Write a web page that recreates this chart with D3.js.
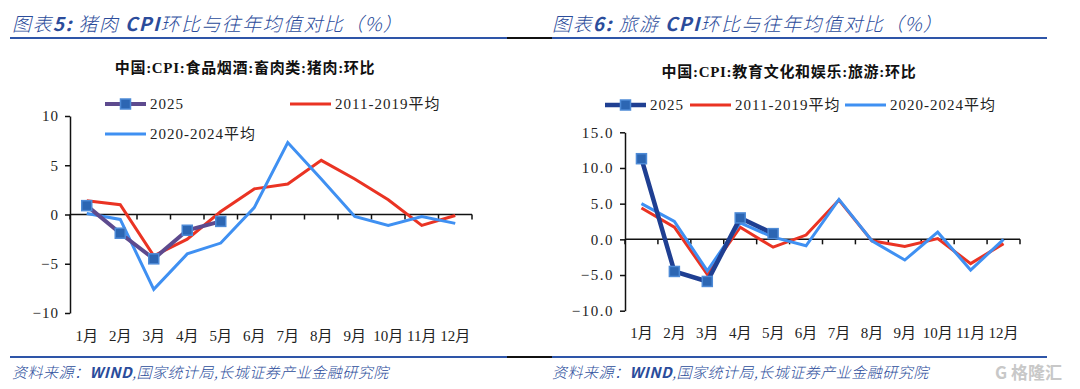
<!DOCTYPE html>
<html>
<head>
<meta charset="utf-8">
<script src="https://cdn.jsdelivr.net/npm/d3@7"></script>
<style>
  body { margin: 0; background: #fff; }
  svg { display: block; }
  .tick text { font-family: "Liberation Serif", "Noto Sans CJK SC", serif; }
</style>
</head>
<body>
<script>
// categories and values
const months = ["1月", "2月", "3月", "4月", "5月", "6月", "7月", "8月", "9月", "10月", "11月", "12月"];

// left chart: pork CPI m/m
const porkTicks = [-10, -5, 0, 5, 10];
const pork2025 = [0.9, -1.9, -4.5, -1.6, -0.7];
const pork1119 = [1.4, 1.0, -4.2, -2.5, 0.3, 2.6, 3.1, 5.5, 3.6, 1.5, -1.1, -0.1];
const pork2024 = [0.1, -0.5, -7.6, -4.0, -2.9, 0.7, 7.3, 3.6, -0.2, -1.1, -0.2, -0.9];

// right chart: tourism CPI m/m
const travelTicks = [-10, -5, 0, 5, 10, 15];
const travel2025 = [11.3, -4.5, -5.9, 3.0, 0.8];
const travel1119 = [4.4, 1.7, -4.9, 1.7, -1.1, 0.6, 5.5, -0.2, -1.0, 0.1, -3.4, -0.6];
const travel2024 = [5.0, 2.5, -4.4, 2.3, 0.3, -0.9, 5.6, -0.2, -2.9, 1.0, -4.3, 0.0];

const width = 1080, height = 389;
const blueText = "#2b4c9b";
const red = "#ea3323", lightBlue = "#3f90f2";

const svg = d3.select("body").append("svg")
  .attr("width", width)
  .attr("height", height);

// header / footer rules
function rules(y) {
  svg.append("line").attr("x1", 10).attr("x2", 507).attr("y1", y).attr("y2", y)
    .attr("stroke", "#2e55a8").attr("stroke-width", 2);
  svg.append("line").attr("x1", 507).attr("x2", 552).attr("y1", y).attr("y2", y)
    .attr("stroke", "#111").attr("stroke-width", 2);
  svg.append("line").attr("x1", 552).attr("x2", 1047).attr("y1", y).attr("y2", y)
    .attr("stroke", "#2e55a8").attr("stroke-width", 2);
}
rules(38);
rules(357);

function header(x, num, topic) {
  const t = svg.append("text")
    .attr("x", x).attr("y", 31)
    .attr("fill", blueText)
    .attr("font-family", "'Noto Sans CJK SC', sans-serif")
    .attr("font-size", 19)
    .attr("font-style", "italic")
    .attr("letter-spacing", 1.4);
  t.append("tspan").attr("font-weight", 300).text("图表");
  t.append("tspan").attr("font-weight", 700).text(num + ":");
  t.append("tspan").attr("font-weight", 300).text("  " + topic + " ");
  t.append("tspan").attr("font-weight", 700).text("CPI");
  t.append("tspan").attr("font-weight", 300).text("环比与往年均值对比（%）");
}
header(12, "5", "猪肉");
header(552, "6", "旅游");

function footer(x) {
  const t = svg.append("text")
    .attr("x", x).attr("y", 378)
    .attr("fill", blueText)
    .attr("font-family", "'Noto Sans CJK SC', sans-serif")
    .attr("font-size", 15)
    .attr("font-style", "italic")
    .attr("letter-spacing", 0.5);
  t.append("tspan").attr("font-weight", 300).text("资料来源：");
  t.append("tspan").attr("font-weight", 700).text("WIND");
  t.append("tspan").attr("font-weight", 300).text(",国家统计局,长城证券产业金融研究院");
}
footer(12);
footer(552);

// watermark
svg.append("text")
  .attr("x", 1062).attr("y", 379)
  .attr("text-anchor", "end")
  .attr("fill", "#c8c8c8")
  .attr("font-family", "'Noto Sans CJK SC', sans-serif")
  .attr("font-size", 17)
  .attr("font-weight", 700)
  .text("G 格隆汇");

function drawChart(o) {
  const g = svg.append("g");

  const x = d3.scaleBand().domain(months).range([o.x0, o.x1]);
  const y = d3.scaleLinear().domain(o.domain).range(o.yRange);

  // chart title
  g.append("text")
    .attr("x", o.titleX).attr("y", o.titleY)
    .attr("text-anchor", "middle")
    .attr("font-family", "'Liberation Serif', 'Noto Sans CJK SC', serif")
    .attr("font-size", 15)
    .attr("font-weight", 700)
    .attr("letter-spacing", 0.7)
    .attr("fill", "#111")
    .text(o.title);

  // y axis
  const yAxis = g.append("g")
    .attr("transform", `translate(${o.x0},0)`)
    .call(d3.axisLeft(y).tickValues(o.ticks).tickSize(5).tickSizeOuter(0).tickPadding(6)
      .tickFormat(d => o.fmt(d).replace("-", "−")));
  yAxis.selectAll("path, line").attr("stroke", "#111").attr("stroke-width", 1.5);
  yAxis.selectAll("text").attr("font-size", 15).attr("fill", "#222")
    .attr("letter-spacing", o.ls);

  // zero line with ticks on category boundaries
  const y0 = y(0);
  g.append("line")
    .attr("x1", o.x0).attr("x2", o.x1).attr("y1", y0).attr("y2", y0)
    .attr("stroke", "#111").attr("stroke-width", 1.5);
  const bounds = months.map(m => x(m)).concat([x.range()[1]]);
  g.selectAll(".bt").data(bounds).join("line")
    .attr("x1", d => d).attr("x2", d => d)
    .attr("y1", y0).attr("y2", y0 + 5)
    .attr("stroke", "#111").attr("stroke-width", 1.5);

  // month labels along the bottom
  const xAxis = g.append("g")
    .attr("transform", `translate(0,${o.labelY})`)
    .call(d3.axisBottom(x).tickSize(0).tickPadding(0));
  xAxis.select(".domain").remove();
  xAxis.selectAll("text").attr("font-size", 15).attr("fill", "#222").attr("dy", "0");

  const cx = m => x(m) + x.bandwidth() / 2;
  const line = d3.line()
    .x((d, i) => cx(months[i]))
    .y(d => y(d));

  g.append("path").datum(o.s1119)
    .attr("fill", "none").attr("stroke", red).attr("stroke-width", 3)
    .attr("stroke-linejoin", "miter").attr("d", line);
  g.append("path").datum(o.s2024)
    .attr("fill", "none").attr("stroke", lightBlue).attr("stroke-width", 3)
    .attr("stroke-linejoin", "miter").attr("d", line);
  g.append("path").datum(o.s2025)
    .attr("fill", "none").attr("stroke", o.c2025).attr("stroke-width", o.w2025)
    .attr("stroke-linejoin", "miter").attr("d", line);
  g.selectAll(".mk").data(o.s2025).join("rect")
    .attr("x", (d, i) => cx(months[i]) - 5)
    .attr("y", d => y(d) - 5)
    .attr("width", 10).attr("height", 10)
    .attr("fill", "#2c66b3").attr("stroke", "#4d8ad6").attr("stroke-width", 1.5);

  // legend
  const legend = g.append("g")
    .attr("font-family", "'Liberation Serif', 'Noto Sans CJK SC', serif")
    .attr("font-size", 15).attr("fill", "#222");
  o.legend.forEach(it => {
    legend.append("line")
      .attr("x1", it.x).attr("x2", it.x + 41).attr("y1", it.y).attr("y2", it.y)
      .attr("stroke", it.color).attr("stroke-width", it.w);
    if (it.marker) {
      legend.append("rect")
        .attr("x", it.x + 15.5).attr("y", it.y - 5).attr("width", 10).attr("height", 10)
        .attr("fill", "#2c66b3").attr("stroke", "#4d8ad6").attr("stroke-width", 1.5);
    }
    legend.append("text")
      .attr("x", it.x + 45).attr("y", it.y + 5)
      .attr("letter-spacing", 1)
      .text(it.label);
  });
}

drawChart({
  x0: 70, x1: 472,
  domain: [-10, 10], yRange: [313, 116],
  ticks: porkTicks, fmt: d3.format("d"), ls: 1,
  labelY: 341,
  title: "中国:CPI:食品烟酒:畜肉类:猪肉:环比",
  titleX: 245, titleY: 73,
  s2025: pork2025, s1119: pork1119, s2024: pork2024,
  c2025: "#5d4a8e", w2025: 4,
  legend: [
    { x: 105, y: 104, color: "#5d4a8e", w: 4, marker: true, label: "2025" },
    { x: 290, y: 104, color: red, w: 3, label: "2011-2019平均" },
    { x: 105, y: 134, color: lightBlue, w: 3, label: "2020-2024平均" }
  ]
});

drawChart({
  x0: 625, x1: 1020,
  domain: [-10, 15], yRange: [310.7, 132.3],
  ticks: travelTicks, fmt: d3.format(".1f"), ls: 1.5,
  labelY: 338,
  title: "中国:CPI:教育文化和娱乐:旅游:环比",
  titleX: 789, titleY: 77,
  s2025: travel2025, s1119: travel1119, s2024: travel2024,
  c2025: "#1f3f92", w2025: 4.5,
  legend: [
    { x: 605, y: 105, color: "#1f3f92", w: 4.5, marker: true, label: "2025" },
    { x: 690, y: 105, color: red, w: 3, label: "2011-2019平均" },
    { x: 845, y: 105, color: lightBlue, w: 3, label: "2020-2024平均" }
  ]
});
</script>
</body>
</html>
